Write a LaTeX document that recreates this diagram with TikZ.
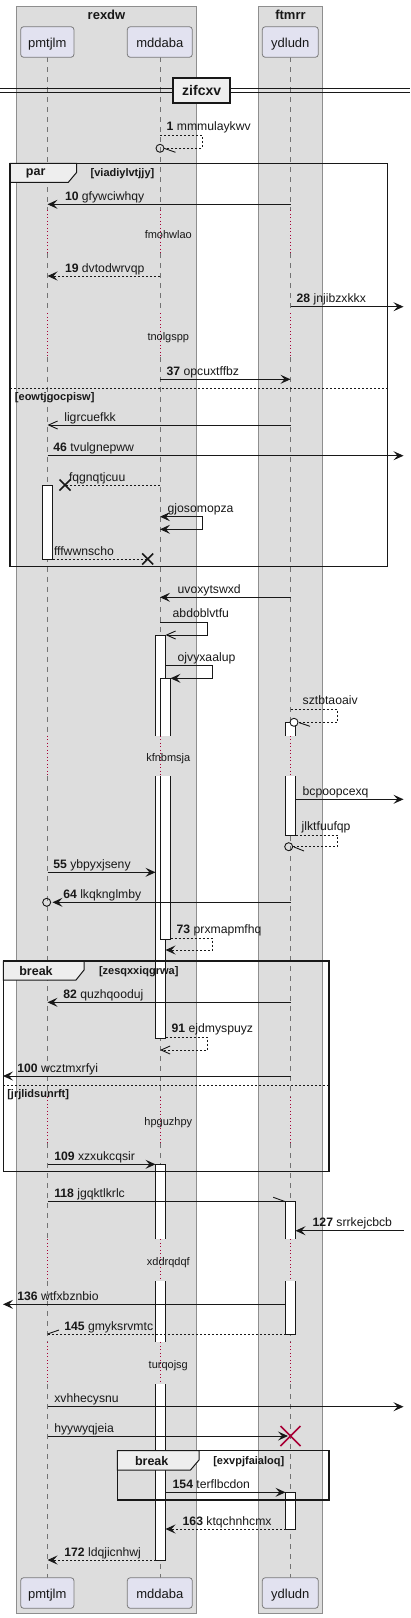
\documentclass[tikz,border=0pt]{standalone}
\usepackage{fontspec}
\setmainfont{Liberation Sans}
\usetikzlibrary{arrows.meta}
\definecolor{boxgray}{HTML}{DDDDDD}
\definecolor{boxline}{HTML}{8E8E8E}
\definecolor{partfill}{HTML}{E2E2F0}
\definecolor{partline}{HTML}{7A7A7A}
\definecolor{ink}{HTML}{181818}
\definecolor{delayred}{HTML}{A80036}
\definecolor{tabfill}{HTML}{EEEEEE}
\newcommand\myfs[1]{\fontsize{#1}{#1}\selectfont}
\begin{document}
\begin{tikzpicture}[x=1pt,y=-1pt,
  every node/.style={inner sep=0pt, outer sep=0pt},
  msg/.style={draw=ink, line width=0.9pt},
  dsh/.style={dash pattern=on 2pt off 2pt},
  af/.style={-{Stealth[length=10pt,width=9pt,inset=4pt]}},
  afb/.style={{Stealth[length=10pt,width=9pt,inset=4pt]}-{Stealth[length=10pt,width=9pt,inset=4pt]}},
  ao/.style={-{Straight Barb[length=9pt,width=8pt]}},
  lbl/.style={anchor=base west, font=\myfs{12.2}, text=ink},
  part/.style={draw=partline, fill=partfill, rounded corners=3pt, line width=0.8pt,
    minimum height=30.6pt, text height=12pt, text depth=2pt, font=\myfs{13}, text=ink},
  grp/.style={fill=boxgray, draw=boxline, line width=0.8pt},
  grpt/.style={anchor=base, font=\bfseries\myfs{13}, text=ink},
  life/.style={draw=black!55, line width=0.8pt, dash pattern=on 5pt off 5pt},
  dly/.style={draw=delayred, line width=0.9pt, dash pattern=on 1pt off 2.5pt},
  dlyt/.style={anchor=base, font=\myfs{11}, text=ink},
  barl/.style={draw=ink, line width=0.9pt},
  frm/.style={draw=ink, line width=1.5pt},
  tabs/.style={draw=ink, line width=1pt, fill=tabfill},
  frmn/.style={font=\bfseries\myfs{12.5}, text=ink},
  cond/.style={anchor=base west, font=\bfseries\myfs{11}, text=ink},
  elsel/.style={draw=ink, line width=0.9pt, dash pattern=on 2pt off 2pt},
  xmark/.style={draw=ink, line width=1.5pt},
  xred/.style={draw=delayred, line width=1.5pt}
]
\useasboundingbox (0,0) rectangle (410,1618);
\fill[white] (0,0) rectangle (410,1618);

% groups
\draw[grp] (16.5,6) rectangle (196.5,1613.3);
\draw[grp] (258.5,6) rectangle (322.5,1613.3);
\node[grpt] (g1) at (106.5,19) {rexdw};
\node[grpt] (g2) at (290.5,19) {ftmrr};

% lifelines
\foreach \lx in {47.5,160,290.5}{
  \foreach \ya/\yb in {57.3/210,253.3/313.3,356.7/735.7,776/1096.7,1143.3/1239.3,1281/1342.3,1384/1577.7}{
    \draw[life] (\lx,\ya) -- (\lx,\yb);
  }
  \foreach \ya/\yb in {210/253.3,313.3/356.7,735.7/776,1096.7/1143.3,1239.3/1281,1342.3/1384}{
    \draw[dly] (\lx,\ya) -- (\lx,\yb);
  }
}

% participants
\node[part, minimum width=53.3pt] (pmT) at (47.3,42) {pmtjlm};
\node[part, minimum width=65pt] (mdT) at (159.8,42) {mddaba};
\node[part, minimum width=56pt] (ydT) at (290.3,42) {ydludn};
\node[part, minimum width=53.3pt] (pmB) at (47.3,1593) {pmtjlm};
\node[part, minimum width=65pt] (mdB) at (159.8,1593) {mddaba};
\node[part, minimum width=56pt] (ydB) at (290.3,1593) {ydludn};

% delay texts
\node[dlyt] (d1) at (168.3,238) {fmohwlao};
\node[dlyt] (d2) at (168.3,340) {tnolgspp};
\node[dlyt] (d3) at (168.3,761) {kfnbmsja};
\node[dlyt] (d4) at (168.3,1125) {hpguzhpy};
\node[dlyt] (d5) at (168.3,1265) {xddrqdqf};
\node[dlyt] (d6) at (168.3,1368.3) {turqojsg};

% divider
\draw[ink, line width=0.9pt] (0,88.3) -- (410,88.3);
\draw[ink, line width=0.9pt] (0,92.3) -- (410,92.3);
\node[draw=ink, line width=1.8pt, fill=tabfill, minimum width=56.7pt, minimum height=24.4pt,
  font=\bfseries\myfs{14}, text=ink] (div) at (201.7,90.5) {zifcxv};

% activation bars
% pmtjlm
\fill[white] (42.5,485) rectangle (52.5,559);
\draw[barl] (42.5,485) rectangle (52.5,559);
% mddaba outer
\fill[white] (155.5,635) rectangle (165.5,735.7);
\fill[white] (155.5,776) rectangle (165.5,1038.3);
\draw[barl] (155.5,735.7) -- (155.5,635) -- (165.5,635) -- (165.5,735.7);
\draw[barl] (155.5,776) -- (155.5,1038.3) -- (165.5,1038.3) -- (165.5,776);
% mddaba inner
\fill[white] (160.5,678.3) rectangle (170.5,735.7);
\fill[white] (160.5,776) rectangle (170.5,939);
\draw[barl] (160.5,735.7) -- (160.5,678.3) -- (170.5,678.3) -- (170.5,735.7);
\draw[barl] (160.5,776) -- (160.5,939) -- (170.5,939) -- (170.5,776);
% ydludn 1
\fill[white] (285.5,722.3) rectangle (295.5,735.7);
\fill[white] (285.5,776) rectangle (295.5,835);
\draw[barl] (285.5,735.7) -- (285.5,722.3) -- (295.5,722.3) -- (295.5,735.7);
\draw[barl] (285.5,776) -- (285.5,835) -- (295.5,835) -- (295.5,776);
% mddaba late
\fill[white] (155.5,1164.3) rectangle (165.5,1239.3);
\fill[white] (155.5,1281) rectangle (165.5,1342.3);
\fill[white] (155.5,1384) rectangle (165.5,1560);
\draw[barl] (155.5,1239.3) -- (155.5,1164.3) -- (165.5,1164.3) -- (165.5,1239.3);
\draw[barl] (155.5,1281) -- (155.5,1342.3) (165.5,1281) -- (165.5,1342.3);
\draw[barl] (155.5,1384) -- (155.5,1560) -- (165.5,1560) -- (165.5,1384);
% ydludn 2
\fill[white] (285.5,1201.7) rectangle (295.5,1239.3);
\fill[white] (285.5,1281) rectangle (295.5,1334);
\draw[barl] (285.5,1239.3) -- (285.5,1201.7) -- (295.5,1201.7) -- (295.5,1239.3);
\draw[barl] (285.5,1281) -- (285.5,1334) -- (295.5,1334) -- (295.5,1281);
% ydludn 3
\fill[white] (285.5,1492.3) rectangle (295.5,1529);
\draw[barl] (285.5,1492.3) rectangle (295.5,1529);

% frames
% par
\draw[tabs] (10,163.3) -- (76.7,163.3) -- (76.7,172.3) -- (68.3,182.3) -- (10,182.3) -- cycle;
\draw[frm] (10,163.3) rectangle (387.7,566.7);
\node[frmn] (f1) at (35.7,173.3) {par};
\node[cond] (c1) at (90.7,176.8) {[viadiylvtjjy]};
\draw[elsel] (10,388.3) -- (387.7,388.3);
\node[cond] (c2) at (15,400) {[eowtjgocpisw]};
% break 1
\draw[tabs] (3.3,961) -- (84,961) -- (84,970) -- (76,980) -- (3.3,980) -- cycle;
\draw[frm] (3.3,961) rectangle (329,1171.7);
\node[frmn] (f2) at (36,971) {break};
\node[cond] (c3) at (99,974.8) {[zesqxxiqgrwa]};
\draw[elsel] (3.3,1085) -- (329,1085);
\node[cond] (c4) at (7.3,1097.3) {[jrjlidsunrft]};
% break 2
\draw[tabs] (117.3,1450.7) -- (199,1450.7) -- (199,1460) -- (190.5,1470) -- (117.3,1470) -- cycle;
\draw[frm] (117.3,1450.7) rectangle (329,1500);
\node[frmn] (f3) at (151.7,1461) {break};
\node[cond] (c5) at (213.3,1464.8) {[exvpjfaialoq]};

% messages
% 1
\draw[msg,dsh] (160,135) -- (202,135) -- (202,148.3) -- (164,148.3);
\draw[msg] (160,148.3) circle[radius=4pt];
\draw[msg] (165,148.6) -- (175.5,152.3);
\node[lbl] (m1) at (166.7,130.5) {\textbf{1} mmmulaykwv};
% 10
\draw[msg,af] (290.5,204.3) -- (47.5,204.3);
\node[lbl] (m10) at (65,200.3) {\textbf{10} gfywciwhqy};
% 19
\draw[msg,dsh,af] (160,276) -- (47.5,276);
\node[lbl] (m19) at (65,272) {\textbf{19} dvtodwrvqp};
% 28
\draw[msg,af] (290.5,306.7) -- (403.5,306.7);
\node[lbl] (m28) at (296.7,302.7) {\textbf{28} jnjibzxkkx};
% 37
\draw[msg,af] (160,379.3) -- (290.5,379.3);
\node[lbl] (m37) at (166.7,375.3) {\textbf{37} opcuxtffbz};
% ligrcuefkk
\draw[msg,ao] (290.5,425) -- (47.5,425);
\node[lbl] (ma) at (64.3,421) {ligrcuefkk};
% 46
\draw[msg,af] (47.5,455.7) -- (403.5,455.7);
\node[lbl] (m46) at (53.3,451.7) {\textbf{46} tvulgnepww};
% fqgnqtjcuu
\draw[msg,dsh] (160,485) -- (65,485);
\draw[xmark] (59.5,479.5) -- (70.5,490.5) (59.5,490.5) -- (70.5,479.5);
\node[lbl] (mb) at (69,481) {fqgnqtjcuu};
% gjosomopza
\draw[msg,afb] (160,516.7) -- (202,516.7) -- (202,529.3) -- (160,529.3);
\node[lbl] (mc) at (167.7,512.2) {gjosomopza};
% fffwwnscho
\draw[msg,dsh] (52.5,559) -- (147.7,559);
\draw[xmark] (142.2,553.5) -- (153.2,564.5) (142.2,564.5) -- (153.2,553.5);
\node[lbl] (md) at (54,555) {fffwwnscho};
% uvoxytswxd
\draw[msg,af] (290.5,597.3) -- (160,597.3);
\node[lbl] (me) at (177.7,593.3) {uvoxytswxd};
% abdoblvtfu
\draw[msg,ao] (160,622.3) -- (207.3,622.3) -- (207.3,635) -- (165.5,635);
\node[lbl] (mf) at (172.7,617.8) {abdoblvtfu};
% ojvyxaalup
\draw[msg,af] (165.5,665.7) -- (212.3,665.7) -- (212.3,678.3) -- (170.5,678.3);
\node[lbl] (mg) at (177.7,661.2) {ojvyxaalup};
% sztbtaoaiv
\draw[msg,dsh] (290.5,709.3) -- (337.3,709.3) -- (337.3,722.3) -- (298,722.3);
\draw[msg, fill=white] (294,722.3) circle[radius=4pt];
\draw[msg] (299,722.6) -- (310,726.3);
\node[lbl] (mh) at (302.7,704.8) {sztbtaoaiv};
% bcpoopcexq
\draw[msg,af] (295.5,799.3) -- (403.5,799.3);
\node[lbl] (mi) at (302.7,795.3) {bcpoopcexq};
% jlktfuufqp
\draw[msg,dsh] (295.5,835) -- (337.3,835) -- (337.3,846.7) -- (292.7,846.7);
\draw[msg] (288.7,846.7) circle[radius=4pt];
\draw[msg] (294,847) -- (304,851);
\node[lbl] (mj) at (301.7,830.5) {jlktfuufqp};
% 55
\draw[msg,af] (47.5,872.3) -- (155.5,872.3);
\node[lbl] (m55) at (53.3,868.3) {\textbf{55} ybpyxjseny};
% 64
\draw[msg,af] (290.5,902.3) -- (52.5,902.3);
\draw[msg] (46.7,902.3) circle[radius=4pt];
\node[lbl] (m64) at (63.3,898.3) {\textbf{64} lkqknglmby};
% 73
\draw[msg,dsh,af] (170.5,938.3) -- (212.3,938.3) -- (212.3,950) -- (165.5,950);
\node[lbl] (m73) at (176.7,933.8) {\textbf{73} prxmapmfhq};
% 82
\draw[msg,af] (290.5,1002.3) -- (47.5,1002.3);
\node[lbl] (m82) at (63.3,998.3) {\textbf{82} quzhqooduj};
% 91
\draw[msg,dsh,ao] (165.5,1037.3) -- (207.3,1037.3) -- (207.3,1050) -- (160,1050);
\node[lbl] (m91) at (171.7,1032.8) {\textbf{91} ejdmyspuyz};
% 100
\draw[msg,af] (290.5,1076) -- (3,1076);
\node[lbl] (m100) at (17.3,1072) {\textbf{100} wcztmxrfyi};
% 109
\draw[msg,af] (47.5,1164.3) -- (155.5,1164.3);
\node[lbl] (m109) at (54.3,1160.3) {\textbf{109} xzxukcqsir};
% 118
\draw[msg] (47.5,1201.7) -- (285.5,1201.7);
\draw[msg] (285.5,1201.7) -- (273.3,1197.3);
\node[lbl] (m118) at (54.3,1197.7) {\textbf{118} jgqktlkrlc};
% 127
\draw[msg,af] (403.5,1230.7) -- (295.5,1230.7);
\node[lbl] (m127) at (312.7,1226.7) {\textbf{127} srrkejcbcb};
% 136
\draw[msg,af] (285.5,1304.3) -- (3,1304.3);
\node[lbl] (m136) at (17.3,1300.3) {\textbf{136} wtfxbznbio};
% 145
\draw[msg,dsh] (285.5,1334) -- (47.5,1334);
\draw[msg] (47.5,1334) -- (59,1330);
\node[lbl] (m145) at (64.3,1330) {\textbf{145} gmyksrvmtc};
% xvhhecysnu
\draw[msg,af] (47.5,1406.7) -- (403.5,1406.7);
\node[lbl] (mk) at (54.3,1402.7) {xvhhecysnu};
% hyywyqjeia
\draw[msg,af] (47.5,1436) -- (288,1436);
\draw[xred] (280.5,1426) -- (300.5,1446) (280.5,1446) -- (300.5,1426);
\node[lbl] (ml) at (54.3,1432) {hyywyqjeia};
% 154
\draw[msg,af] (165.5,1492.3) -- (285.5,1492.3);
\node[lbl] (m154) at (172.7,1488.3) {\textbf{154} terflbcdon};
% 163
\draw[msg,dsh,af] (285.5,1529) -- (165.5,1529);
\node[lbl] (m163) at (182.7,1525) {\textbf{163} ktqchnhcmx};
% 172
\draw[msg,dsh,af] (155.5,1560) -- (47.5,1560);
\node[lbl] (m172) at (64.3,1556) {\textbf{172} ldqjicnhwj};
\end{tikzpicture}
\end{document}
